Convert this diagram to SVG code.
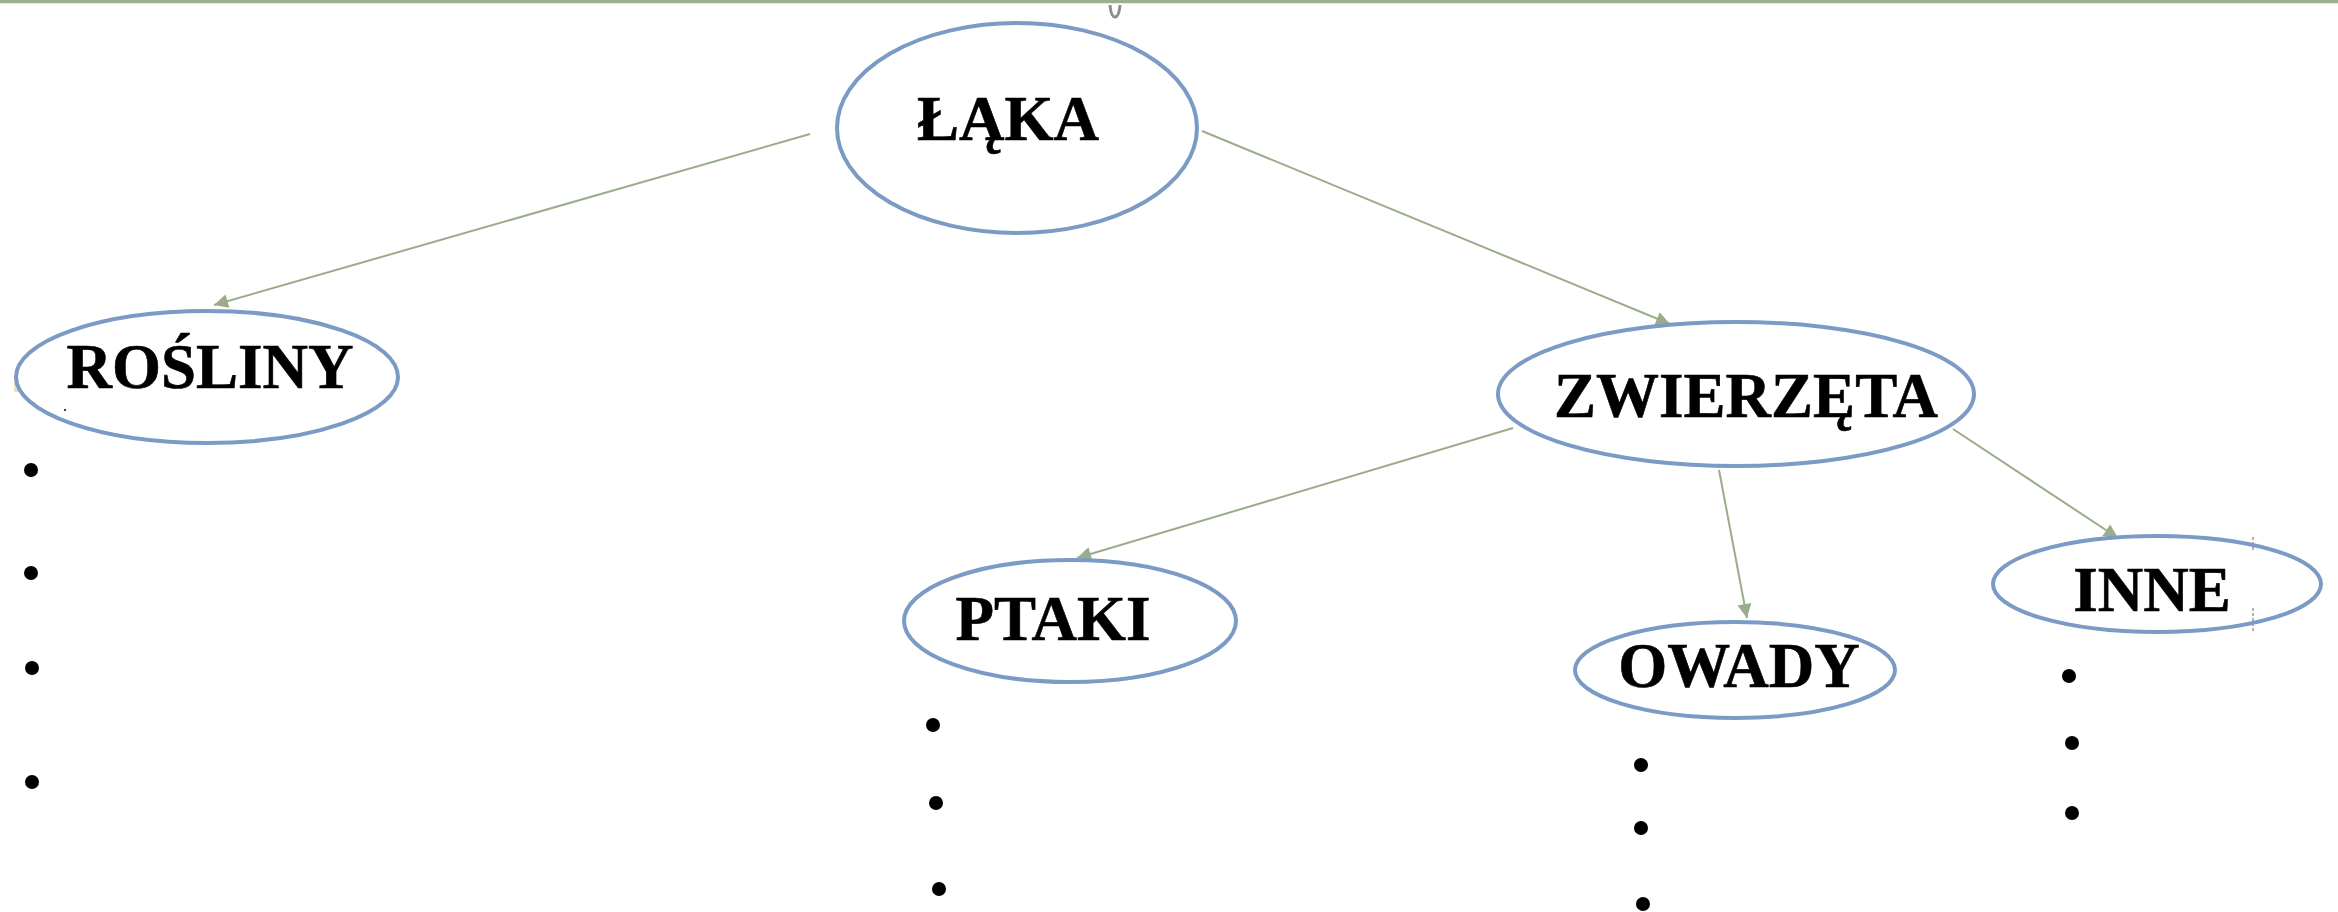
<svg xmlns="http://www.w3.org/2000/svg" width="2338" height="912" viewBox="0 0 2338 912">
<style>
.node{fill:#ffffff;stroke:#7b9ac4;stroke-width:4}
.lbl{font-family:"Liberation Serif","Times New Roman",serif;font-weight:bold;font-size:63px;fill:#000;stroke:#000;stroke-width:0.6;text-anchor:middle}
.edge{stroke:#9aad8a;stroke-width:2;fill:none;marker-end:url(#arr)}
.dot{fill:#000}
</style>
<defs>
<marker id="arr" viewBox="0 0 10 10" refX="10" refY="5" markerWidth="20" markerHeight="14" markerUnits="userSpaceOnUse" orient="auto">
<path d="M0,0 L10,5 L0,10 z" fill="#9aad8a"/>
</marker>
</defs>
<rect x="0" y="0" width="2338" height="912" fill="#ffffff"/>
<line x1="0" y1="1.5" x2="2338" y2="1.5" stroke="#9bb08a" stroke-width="3.5"/>
<path d="M1110,5 Q1111,17 1115,17 Q1119,17 1120,5" fill="none" stroke="#8c8c8c" stroke-width="3"/>
<rect x="14" y="377" width="7" height="15" fill="#f3dcc4"/>
<g id="connectors">
<line class="edge" x1="810" y1="134" x2="214" y2="305"/>
<line class="edge" x1="1202" y1="131" x2="1670" y2="324"/>
<line class="edge" x1="1513" y1="428" x2="1077" y2="558"/>
<line class="edge" x1="1719" y1="470" x2="1747" y2="618"/>
<line class="edge" x1="1953" y1="429" x2="2118" y2="538"/>
</g>
<g id="laka">
<ellipse class="node" cx="1017" cy="128" rx="180" ry="105"/>
<text class="lbl" x="1008" y="140">ŁĄKA</text>
</g>
<g id="rosliny">
<ellipse class="node" cx="207" cy="377" rx="191" ry="66"/>
<text class="lbl" x="210" y="388">ROŚLINY</text>
<circle class="dot" cx="65" cy="410" r="1"/>
</g>
<g id="zwierzeta">
<ellipse class="node" cx="1736" cy="394" rx="238" ry="72"/>
<text class="lbl" x="1746" y="417">ZWIERZĘTA</text>
</g>
<g id="ptaki">
<ellipse class="node" cx="1070" cy="621" rx="166" ry="61"/>
<text class="lbl" x="1053" y="640">PTAKI</text>
</g>
<g id="owady">
<ellipse class="node" cx="1735" cy="670" rx="160" ry="48"/>
<text class="lbl" x="1739" y="687">OWADY</text>
</g>
<g id="inne">
<ellipse class="node" cx="2157" cy="584" rx="164" ry="48"/>
<text class="lbl" x="2152" y="611">INNE</text>
<line x1="2253" y1="537" x2="2253" y2="552" stroke="#999" stroke-width="1.5" stroke-dasharray="3,2"/>
<line x1="2253" y1="608" x2="2253" y2="633" stroke="#999" stroke-width="1.5" stroke-dasharray="3,2"/>
</g>
<g id="bullets">
<circle class="dot" cx="31" cy="470" r="7"/>
<circle class="dot" cx="31" cy="573" r="7"/>
<circle class="dot" cx="32" cy="668" r="7"/>
<circle class="dot" cx="32" cy="782" r="7"/>
<circle class="dot" cx="933" cy="725" r="7"/>
<circle class="dot" cx="936" cy="803" r="7"/>
<circle class="dot" cx="939" cy="889" r="7"/>
<circle class="dot" cx="1641" cy="765" r="7"/>
<circle class="dot" cx="1641" cy="828" r="7"/>
<circle class="dot" cx="1643" cy="904" r="7"/>
<circle class="dot" cx="2069" cy="676" r="7"/>
<circle class="dot" cx="2072" cy="743" r="7"/>
<circle class="dot" cx="2072" cy="813" r="7"/>
</g>
</svg>
